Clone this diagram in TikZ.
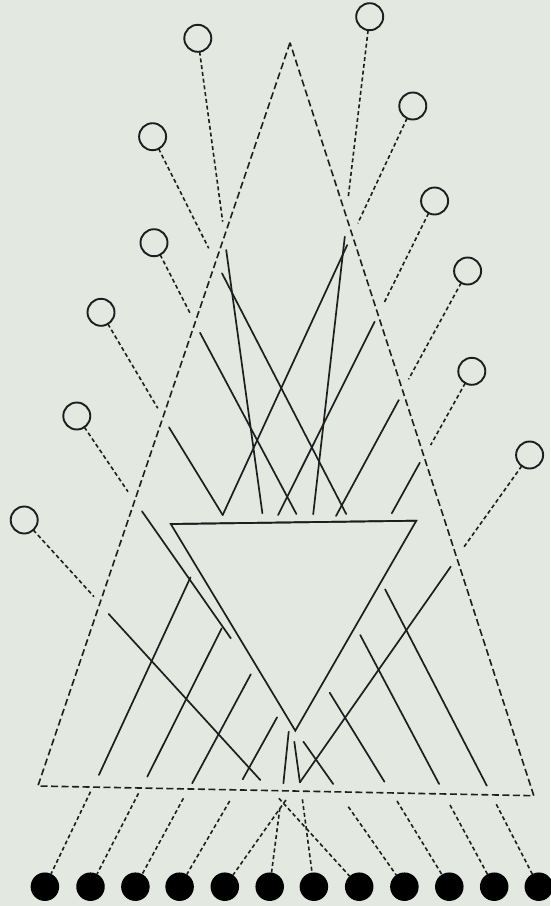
\documentclass[tikz,border=0pt]{standalone}
\definecolor{paper}{HTML}{E3E8E1}
\definecolor{ink}{HTML}{1E1E1E}
\tikzset{
  opencirc/.style={circle,draw=ink,line width=1.9pt,minimum size=27pt,inner sep=0pt,outer sep=0pt},
  fullcirc/.style={circle,fill=black,draw=none,minimum size=28.5pt,inner sep=0pt,outer sep=0pt},
  solidline/.style={draw=ink,line width=1.7pt,line cap=round},
  frame/.style={draw=ink,line width=1.6pt,dash pattern=on 7pt off 3.5pt},
  link/.style={draw=ink,line width=1.6pt,dash pattern=on 4pt off 2.8pt}
}
\begin{document}
\begin{tikzpicture}[x=1pt,y=-1pt]
\path[use as bounding box,fill=paper] (0,0) rectangle (550,906);
% upper open circles and their dashed links
\foreach \n/\cx/\cy/\ex/\ey in {
  1/197.8/38.3/222.7/221.7,
  2/369.7/16.7/348.3/196.7,
  3/412.8/106/357.8/223.3,
  4/152.6/136.7/208.7/248.3,
  5/434.6/201/384/303,
  6/154/242.7/191/315,
  7/467.6/271/408.6/379.3,
  8/101/312.3/157.8/408.3,
  9/471.8/371.3/430.7/445,
  10/76.8/416/128/491.7,
  11/529.6/455/463/548.3,
  12/24.2/520/94/596.7}{
  \node[opencirc] (o\n) at (\cx,\cy) {};
  \coordinate (oe\n) at (\ex,\ey);
  \draw[link] (o\n) -- (oe\n);
}
% lower filled circles and their dashed links
\foreach \n/\cx/\sx/\sy in {
  1/44.9/90.5/791.7,
  2/90.5/138.5/793.3,
  3/135.4/183.4/798.3,
  4/179.6/229.7/801,
  5/224.8/285.9/800,
  6/269.7/279.9/808,
  7/313.9/302.4/799.3,
  8/359.2/278.9/798.3,
  9/404.4/348.3/806.7,
  10/449.3/397/801,
  11/494.2/450/805,
  12/538.8/496.3/804.3}{
  \node[fullcirc] (b\n) at (\cx,886.7) {};
  \coordinate (be\n) at (\sx,\sy);
  \draw[link] (be\n) -- (b\n);
}
% large dashed triangle
\coordinate (ta) at (290,42.7);
\coordinate (tl) at (37.9,786);
\coordinate (tr) at (533.8,795.7);
\draw[frame] (ta) -- (tl) -- (tr) -- cycle;
% solid inverted triangle
\coordinate (il) at (170.8,524);
\coordinate (ir) at (416.3,520.7);
\coordinate (ib) at (295.3,730.7);
\draw[solidline,line join=miter] (il) -- (ir) -- (ib) -- cycle;
\draw[solidline] (il) -- (ir);
% solid segments
\foreach \ax/\ay/\bx/\by in {
  226.2/250/262.4/513.3,
  222/273.3/346.2/514,
  347.2/245/222.7/515,
  344.8/236.7/313.2/514.3,
  200/332.7/296.4/514,
  374.6/321.7/278.1/515,
  169/427.3/222.7/515,
  398.8/400/336/516,
  419.8/462.7/391.8/513.3,
  142/511.3/230.8/638.3,
  108.7/614/260.3/780,
  190.5/577.3/98.9/775,
  221.7/628.3/147.3/776.7,
  250.8/674.3/192.2/783.3,
  277.1/717.3/242.7/779.3,
  288.7/731.7/283.4/783.3,
  294.3/741.7/299.9/782.3,
  303.4/741.7/333.2/784,
  450.7/566.7/299.9/782.3,
  329.7/692.7/384.4/781.7,
  360.2/635/439.1/784,
  385.1/589.3/486.8/785.7}{
  \draw[solidline] (\ax,\ay) -- (\bx,\by);
}
\end{tikzpicture}
\end{document}
